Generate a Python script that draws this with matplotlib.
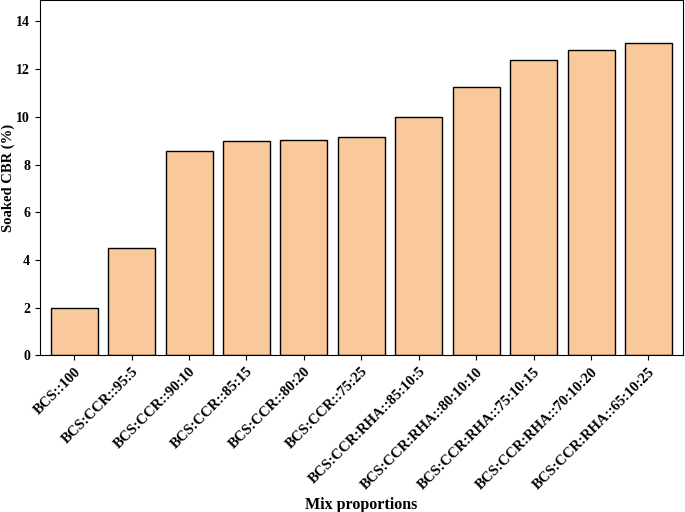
import matplotlib
matplotlib.use("Agg")
import matplotlib.pyplot as plt

categories = ["BCS::100", "BCS:CCR::95:5", "BCS:CCR::90:10", "BCS:CCR::85:15", "BCS:CCR::80:20",
              "BCS:CCR::75:25", "BCS:CCR:RHA::85:10:5", "BCS:CCR:RHA::80:10:10",
              "BCS:CCR:RHA::75:10:15", "BCS:CCR:RHA::70:10:20", "BCS:CCR:RHA::65:10:25"]
values = [2.0, 4.52, 8.57, 9.0, 9.03, 9.17, 9.98, 11.27, 12.38, 12.8, 13.1]
yticks = [0, 2, 4, 6, 8, 10, 12, 14]

plt.rcParams["font.family"] = "Liberation Serif"
plt.rcParams["font.weight"] = "bold"
fig = plt.figure(figsize=(6.85, 5.12), dpi=100)
ax = fig.add_axes([0.058, 0.306, 0.939, 0.694])
x = range(len(categories))
ax.bar(x, values, width=0.82, color="#F9C89B", edgecolor="black", linewidth=1)
ax.set_xlim(-0.6, len(categories) - 0.4)
ax.set_ylim(0, 14.9)
ax.set_yticks(yticks)
ax.set_xticks(list(x))
ax.set_xticklabels(categories, rotation=45, ha="right", rotation_mode="anchor", fontsize=10.5, fontweight="bold")
ax.tick_params(axis="y", labelsize=10)
for lab in ax.get_yticklabels():
    lab.set_fontweight("bold")
ax.set_ylabel("Soaked CBR (%)", fontsize=10.5, fontweight="bold", labelpad=1)
ax.set_xlabel("Mix proportions", fontsize=11.5, fontweight="bold", labelpad=4)
fig.savefig("out.png", dpi=100)
